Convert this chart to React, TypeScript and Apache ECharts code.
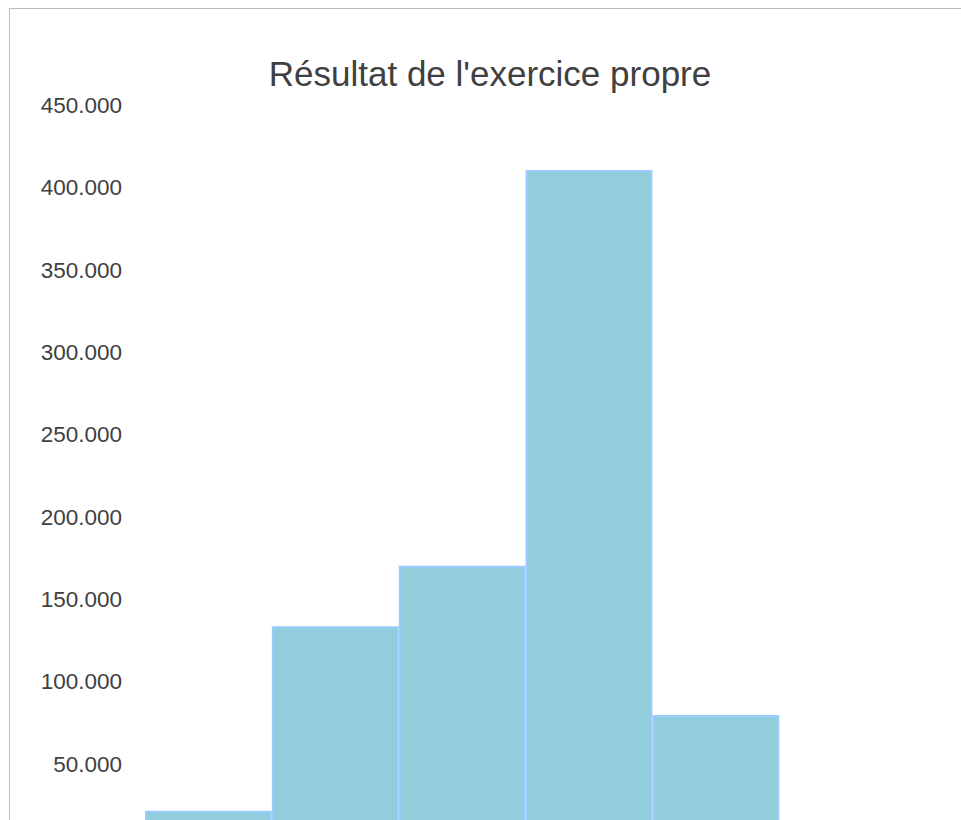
import React, { useEffect, useRef } from "react";
import * as echarts from "echarts";

const TITLE = "Résultat de l'exercice propre";
const categories = ["1", "2", "3", "4", "5"];
const values = [21600, 133700, 170500, 411000, 79800];
const yMin = 0;
const yMax = 450000;
const yInterval = 50000;

function fmt(v: number): string {
  return String(Math.round(v)).replace(/\B(?=(\d{3})+(?!\d))/g, ".");
}

export default function App() {
  const ref = useRef<HTMLDivElement>(null);
  useEffect(() => {
    if (!ref.current) return;
    const chart = echarts.init(ref.current, undefined, { renderer: "svg" });
    chart.setOption({
      animation: false,
      title: {
        text: TITLE,
        left: "center",
        top: 42,
        textStyle: {
          fontFamily: "Liberation Sans, Arial, sans-serif",
          fontSize: 35,
          fontWeight: "normal",
          color: "#404040",
        },
      },
      grid: { left: 135, right: 960 - 769.3, top: 96.7, bottom: 62.7, containLabel: false },
      xAxis: {
        type: "category",
        data: categories,
        axisLine: { show: true, lineStyle: { color: "#bfbfbf" } },
        axisTick: { show: false },
        axisLabel: { show: false },
      },
      yAxis: {
        type: "value",
        min: yMin,
        max: yMax,
        interval: yInterval,
        axisLine: { show: false },
        axisTick: { show: false },
        splitLine: { show: false },
        axisLabel: {
          margin: 23,
          showMinLabel: false,
          fontFamily: "Liberation Sans, Arial, sans-serif",
          fontSize: 22.5,
          color: "#404040",
          formatter: (v: number) => fmt(v),
        },
      },
      series: [
        {
          type: "bar",
          data: values,
          barCategoryGap: "0%",
          barGap: "0%",
          itemStyle: {
            color: "#92CDDC",
            borderColor: "#99CCFF",
            borderWidth: 2,
          },
        },
      ],
    });
    return () => chart.dispose();
  }, []);
  return (
    <div style={{ position: "fixed", left: 0, top: 0, width: 961, height: 820, overflow: "hidden", background: "#fff" }}>
      <div
        ref={ref}
        style={{
          position: "absolute",
          left: 9,
          top: 8,
          width: 960,
          height: 900,
          border: "1px solid #b4bcc8",
          background: "#fff",
        }}
      />
    </div>
  );
}
